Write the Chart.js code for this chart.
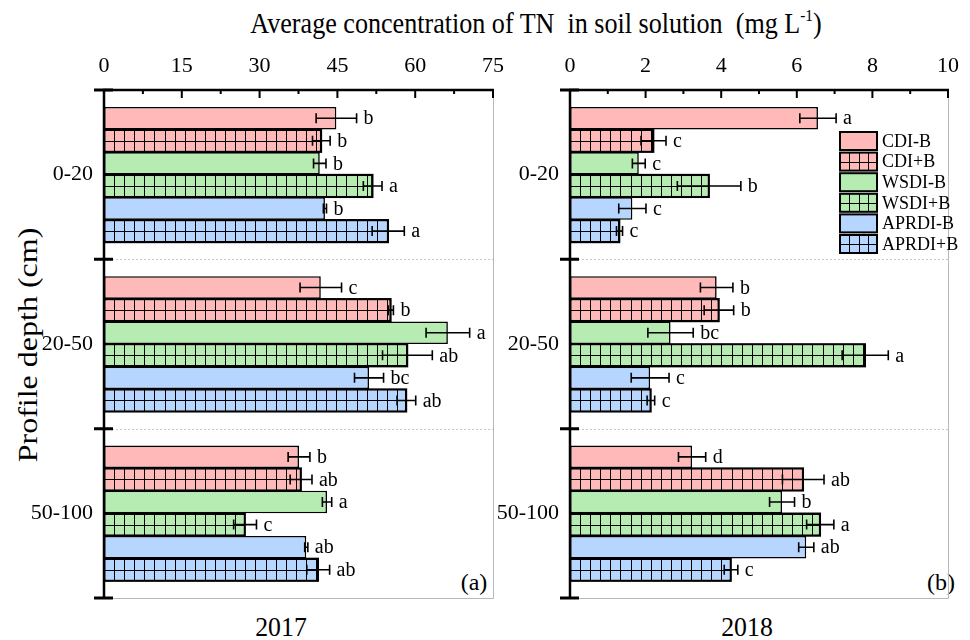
<!DOCTYPE html>
<html>
<head>
<meta charset="utf-8">
<script src="https://cdn.jsdelivr.net/npm/chart.js@4.4.1/dist/chart.umd.min.js"></script>
<style>
body { margin: 0; background: #fff; width: 970px; height: 640px; overflow: hidden; position: relative;
       font-family: "Liberation Serif", "Times New Roman", serif; color: #000; }
.wrap { position: absolute; top: 0; height: 640px; }
.txt { position: absolute; white-space: nowrap; line-height: 1; }
sup { font-size: 17px; vertical-align: 12px; line-height: 0; }
</style>
</head>
<body>
<div class="txt" style="left:536px;top:23px;font-size:29px;transform:translate(-50%,-50%) scaleX(0.9)">Average concentration of TN&nbsp; in soil solution&nbsp; (mg L<sup>-1</sup>)</div>
<div class="txt" style="left:27px;top:345px;font-size:32px;transform:translate(-50%,-50%) rotate(-90deg) scaleY(0.88)">Profile depth (cm)</div>
<div class="txt" style="left:281px;top:627px;font-size:28px;transform:translate(-50%,-50%) scaleX(0.92)">2017</div>
<div class="txt" style="left:747px;top:627px;font-size:28px;transform:translate(-50%,-50%) scaleX(0.92)">2018</div>
<div class="txt" style="left:474px;top:582px;font-size:24px;transform:translate(-50%,-50%)">(a)</div>
<div class="txt" style="left:941px;top:582px;font-size:24px;transform:translate(-50%,-50%)">(b)</div>

<div class="wrap" style="left:0;width:520px"><canvas id="chartA" width="520" height="640"></canvas></div>
<div class="wrap" style="left:460px;width:510px"><canvas id="chartB" width="510" height="640"></canvas></div>

<script>
// depth groups and treatments
const depths = ['0-20', '20-50', '50-100'];
const treatments = ['CDI-B', 'CDI+B', 'WSDI-B', 'WSDI+B', 'APRDI-B', 'APRDI+B'];
const fills = ['#ffb9b9', '#ffb9b9', '#b6ecb1', '#b6ecb1', '#b6d6ff', '#b6d6ff'];
const hatched = [false, true, false, true, false, true];

// 2017, one row per treatment, values for 0-20 / 20-50 / 50-100
const means2017 = [
    [44.8, 41.8, 37.6],
    [41.9, 55.3, 38.0],
    [41.6, 66.3, 43.0],
    [51.8, 58.5, 27.2],
    [42.6, 51.1, 39.0],
    [54.8, 58.3, 41.3]
];
const errs2017 = [
    [3.9, 4.0, 2.1],
    [1.7, 0.5, 2.1],
    [1.2, 4.2, 0.9],
    [1.8, 4.8, 2.2],
    [0.3, 2.8, 0.3],
    [3.1, 1.8, 2.2]
];
const letters2017 = [
    ['b', 'c', 'b'],
    ['b', 'b', 'ab'],
    ['b', 'a', 'a'],
    ['a', 'ab', 'c'],
    ['b', 'bc', 'ab'],
    ['a', 'ab', 'ab']
];

// 2018
const means2018 = [
    [6.56, 3.88, 3.23],
    [2.21, 3.94, 6.17],
    [1.82, 2.66, 5.61],
    [3.68, 7.81, 6.62],
    [1.65, 2.12, 6.25],
    [1.31, 2.14, 4.26]
];
const errs2018 = [
    [0.48, 0.43, 0.36],
    [0.33, 0.39, 0.55],
    [0.17, 0.60, 0.33],
    [0.84, 0.61, 0.36],
    [0.36, 0.50, 0.20],
    [0.08, 0.10, 0.18]
];
const letters2018 = [
    ['a', 'b', 'd'],
    ['c', 'b', 'ab'],
    ['c', 'bc', 'b'],
    ['b', 'a', 'a'],
    ['c', 'c', 'ab'],
    ['c', 'c', 'c']
];

const xMax2017 = 75, xStep2017 = 15;
const xMax2018 = 10, xStep2018 = 2;

const SERIF = '"Liberation Serif", "Times New Roman", serif';

function gridLines(ctx, x0, y0, x1, y1, step, yMid) {
    ctx.save();
    ctx.beginPath();
    ctx.rect(x0, y0, x1 - x0, y1 - y0);
    ctx.clip();
    ctx.strokeStyle = '#000';
    ctx.lineWidth = 1;
    ctx.beginPath();
    for (let x = x0 + step; x < x1; x += step) {
        ctx.moveTo(Math.round(x) + 0.5, y0);
        ctx.lineTo(Math.round(x) + 0.5, y1);
    }
    ctx.moveTo(x0, Math.round(yMid) + 0.5);
    ctx.lineTo(x1, Math.round(yMid) + 0.5);
    ctx.stroke();
    ctx.restore();
}

// axes, hatching, error bars and letters
const decorPlugin = {
    id: 'decor',
    afterDatasetsDraw(chart) {
        const ctx = chart.ctx;
        const area = chart.chartArea;
        const xs = chart.scales.x;
        const ys = chart.scales.y;

        // hatching
        chart.data.datasets.forEach((ds, i) => {
            if (!ds.hatch) return;
            chart.getDatasetMeta(i).data.forEach(bar => {
                const h = bar.height / 2;
                gridLines(ctx, bar.base, bar.y - h, bar.x, bar.y + h, 10.1, bar.y);
                ctx.save();
                ctx.strokeStyle = '#000';
                ctx.lineWidth = 1.6;
                ctx.strokeRect(bar.base, bar.y - h, bar.x - bar.base, bar.height);
                ctx.restore();
            });
        });

        // error bars + letters
        chart.data.datasets.forEach((ds, i) => {
            chart.getDatasetMeta(i).data.forEach((bar, j) => {
                const v = ds.data[j], e = ds.err[j];
                const x0 = xs.getPixelForValue(v - e);
                const x1 = xs.getPixelForValue(v + e);
                const y = bar.y;
                ctx.save();
                ctx.strokeStyle = '#000';
                ctx.lineWidth = 1.6;
                ctx.beginPath();
                ctx.moveTo(x0, y); ctx.lineTo(x1, y);
                ctx.moveTo(x0, y - 5); ctx.lineTo(x0, y + 5);
                ctx.moveTo(x1, y - 5); ctx.lineTo(x1, y + 5);
                ctx.stroke();
                ctx.fillStyle = '#000';
                ctx.font = '20px ' + SERIF;
                ctx.textBaseline = 'middle';
                ctx.fillText(ds.letters[j], Math.max(x1, bar.x) + 7, y + 1);
                ctx.restore();
            });
        });

        // frame
        ctx.save();
        ctx.strokeStyle = '#b8b8b8';
        ctx.lineWidth = 1;
        ctx.beginPath();
        ctx.moveTo(area.right + 0.5, area.top);
        ctx.lineTo(area.right + 0.5, area.bottom + 0.5);
        ctx.lineTo(area.left, area.bottom + 0.5);
        ctx.stroke();

        // dotted separators between depth groups
        const n = ys.getLabels().length;
        const bounds = [];
        for (let k = 0; k <= n; k++) bounds.push(ys.getPixelForValue(k - 0.5));
        ctx.strokeStyle = '#c8c8c8';
        ctx.setLineDash([2, 2]);
        ctx.beginPath();
        bounds.slice(1, -1).forEach(y => {
            ctx.moveTo(area.left, Math.round(y) + 0.5);
            ctx.lineTo(area.right, Math.round(y) + 0.5);
        });
        ctx.stroke();
        ctx.setLineDash([]);

        // top axis with major/minor ticks
        ctx.strokeStyle = '#000';
        ctx.lineWidth = 2.5;
        ctx.beginPath();
        ctx.moveTo(area.left - 1, area.top);
        ctx.lineTo(area.right + 1, area.top);
        ctx.stroke();
        ctx.lineWidth = 2;
        ctx.beginPath();
        const ticks = xs.ticks.map(t => t.value);
        ticks.forEach((t, k) => {
            const px = xs.getPixelForValue(t);
            ctx.moveTo(px, area.top); ctx.lineTo(px, area.top + 8);
            if (k < ticks.length - 1) {
                const pm = xs.getPixelForValue((t + ticks[k + 1]) / 2);
                ctx.moveTo(pm, area.top); ctx.lineTo(pm, area.top + 4);
            }
        });
        ctx.stroke();

        // left axis with crossing ticks at group bounds
        ctx.lineWidth = 2.5;
        ctx.beginPath();
        ctx.moveTo(area.left, area.top - 1);
        ctx.lineTo(area.left, area.bottom + 1);
        ctx.stroke();
        ctx.lineWidth = 3;
        ctx.beginPath();
        bounds.forEach(y => {
            ctx.moveTo(area.left - 10, y); ctx.lineTo(area.left + 9, y);
        });
        ctx.stroke();
        ctx.restore();

        // legend (only the 2018 panel carries it)
        if (chart.options.plugins.boxLegend) {
            const lx = area.left + 270, ly = 132, bw = 37, bh = 18, gap = 20.6;
            chart.data.datasets.forEach((ds, i) => {
                const y = ly + i * gap;
                ctx.save();
                ctx.fillStyle = ds.backgroundColor;
                ctx.fillRect(lx, y, bw, bh);
                if (ds.hatch) gridLines(ctx, lx, y, lx + bw, y + bh, 9.3, y + bh / 2);
                ctx.strokeStyle = '#000';
                ctx.lineWidth = 2;
                ctx.strokeRect(lx, y, bw, bh);
                ctx.fillStyle = '#000';
                ctx.font = '18px ' + SERIF;
                ctx.textBaseline = 'middle';
                ctx.fillText(ds.label, lx + bw + 5, y + bh / 2 + 1);
                ctx.restore();
            });
        }
    }
};

function makeChart(id, means, errs, letters, xMax, xStep, yWidth, padRight, legend) {
    const datasets = treatments.map((t, i) => ({
        label: t,
        data: means[i],
        err: errs[i],
        letters: letters[i],
        hatch: hatched[i],
        backgroundColor: fills[i],
        borderColor: '#000',
        borderWidth: 1.6,
        borderSkipped: false,
        categoryPercentage: 0.8,
        barPercentage: 1.0
    }));
    return new Chart(document.getElementById(id).getContext('2d'), {
        type: 'bar',
        data: { labels: depths, datasets: datasets },
        options: {
            indexAxis: 'y',
            responsive: false,
            animation: false,
            devicePixelRatio: 1,
            layout: { padding: { top: 0, right: padRight, bottom: 42, left: 0 } },
            scales: {
                x: {
                    position: 'top',
                    min: 0,
                    max: xMax,
                    ticks: { stepSize: xStep, color: '#000', padding: 11, font: { family: SERIF, size: 22 } },
                    grid: { display: false, drawTicks: false },
                    border: { display: false },
                    afterFit: s => { s.height = 90; }
                },
                y: {
                    ticks: { color: '#000', padding: 11, font: { family: SERIF, size: 22 } },
                    grid: { display: false, drawTicks: false },
                    border: { display: false },
                    afterFit: s => { s.width = yWidth; }
                }
            },
            plugins: {
                legend: { display: false },
                tooltip: { enabled: false },
                boxLegend: legend
            }
        },
        plugins: [decorPlugin]
    });
}

makeChart('chartA', means2017, errs2017, letters2017, xMax2017, xStep2017, 104, 27, false);
makeChart('chartB', means2018, errs2018, letters2018, xMax2018, xStep2018, 110, 11, true);
</script>
</body>
</html>
